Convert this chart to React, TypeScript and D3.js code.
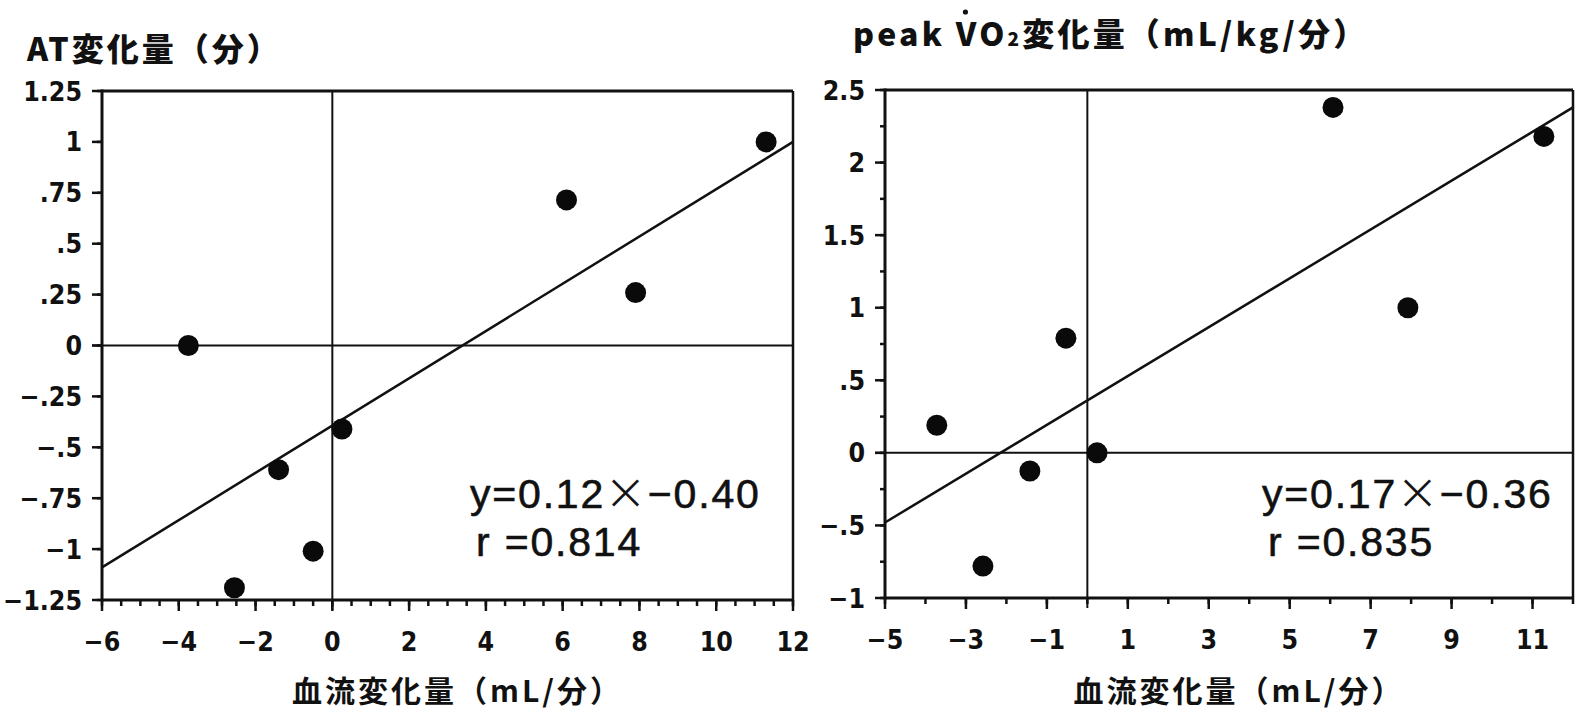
import React, { useLayoutEffect, useRef, useState } from "react";
import * as d3 from "d3";

// ---- data ----
const atX = [-3.75, -2.55, -1.4, -0.5, 0.25, 6.1, 7.9, 11.3];
const atY = [0, -1.19, -0.61, -1.01, -0.41, 0.715, 0.26, 1.0];
const atLine = [
  [-6, -1.09],
  [12, 1.0],
];
const atYTicks = [1.25, 1, 0.75, 0.5, 0.25, 0, -0.25, -0.5, -0.75, -1, -1.25];
const atYLabels = ["1.25", "1", ".75", ".5", ".25", "0", "−.25", "−.5", "−.75", "−1", "−1.25"];
const atXTicks = [-6, -4, -2, 0, 2, 4, 6, 8, 10, 12];

const vo2X = [-3.72, -2.58, -1.42, -0.53, 0.24, 6.07, 7.92, 11.28];
const vo2Y = [0.19, -0.78, -0.125, 0.79, 0, 2.38, 1.0, 2.18];
const vo2Line = [
  [-5, -0.48],
  [12, 2.38],
];
const vo2YTicks = [2.5, 2, 1.5, 1, 0.5, 0, -0.5, -1];
const vo2YLabels = ["2.5", "2", "1.5", "1", ".5", "0", "−.5", "−1"];
const vo2XTicks = [-5, -3, -1, 1, 3, 5, 7, 9, 11];

const xTitle = "血流変化量（mL/分）";
const atTitle = "AT変化量（分）";
const atEq = ["y=0.12", "×", "−0.40", "r =0.814"];
const vo2Eq = ["y=0.17", "×", "−0.36", "r =0.835"];

const NARROW = "'Liberation Sans Narrow', 'DejaVu Sans Condensed', 'Arial Narrow', sans-serif";
const CJK = "'Noto Sans CJK JP', 'Noto Sans', sans-serif";
const EQ = "'Liberation Sans', Arial, sans-serif";

type PanelProps = {
  xDomain: [number, number];
  yDomain: [number, number];
  xRange: [number, number];
  yRange: [number, number];
  xs: number[];
  ys: number[];
  line: number[][];
  yTicks: number[];
  yLabels: string[];
  yMinorStep: number;
  xTicks: number[];
  xMinorStep: number;
  eq: string[];
  eqX: number;
};

function Panel(p: PanelProps) {
  const x = d3.scaleLinear().domain(p.xDomain).range(p.xRange);
  const y = d3.scaleLinear().domain(p.yDomain).range(p.yRange);
  const [x0, x1] = p.xRange;
  const [yb, yt] = p.yRange;
  const xMinor = d3.range(p.xDomain[0], p.xDomain[1] + 1e-9, p.xMinorStep);
  const yMinor = d3.range(p.yDomain[0], p.yDomain[1] + 1e-9, p.yMinorStep);
  const lineGen = d3
    .line<number[]>()
    .x((d) => x(d[0]))
    .y((d) => y(d[1]));
  return (
    <g>
      {/* frame */}
      <line x1={x0} x2={x1} y1={yt} y2={yt} stroke="#111" strokeWidth={3} />
      <line x1={x1} x2={x1} y1={yt} y2={yb} stroke="#111" strokeWidth={2.5} />
      <line x1={x0} x2={x1} y1={yb} y2={yb} stroke="#111" strokeWidth={3} />
      <line x1={x0} x2={x0} y1={yt - 1.5} y2={yb + 1.5} stroke="#111" strokeWidth={3} />
      {/* zero lines */}
      <line x1={x0 - 10} x2={x1} y1={y(0)} y2={y(0)} stroke="#111" strokeWidth={2} />
      <line x1={x(0)} x2={x(0)} y1={yt} y2={yb + 10} stroke="#111" strokeWidth={2} />
      {/* y minor ticks */}
      {yMinor.map((v, i) => (
        <line key={"ym" + i} x1={x0 - 5} x2={x0} y1={y(v)} y2={y(v)} stroke="#111" strokeWidth={2.5} />
      ))}
      {/* y major ticks */}
      {p.yTicks.map((v, i) => (
        <g key={"y" + i}>
          <line x1={x0 - 10} x2={x0} y1={y(v)} y2={y(v)} stroke="#111" strokeWidth={2.5} />
          <text
            x={x0 - 20}
            y={y(v) + 9.5}
            textAnchor="end"
            fontFamily={NARROW}
            fontWeight="bold"
            fontSize={26.5}
            fill="#111"
          >
            {p.yLabels[i]}
          </text>
        </g>
      ))}
      {/* x minor ticks */}
      {xMinor.map((v, i) => (
        <line key={"xm" + i} x1={x(v)} x2={x(v)} y1={yb} y2={yb + 6} stroke="#111" strokeWidth={2.5} />
      ))}
      {p.xTicks.map((v, i) => (
        <g key={"x" + i}>
          <line x1={x(v)} x2={x(v)} y1={yb} y2={yb + 11} stroke="#111" strokeWidth={2.5} />
          <text
            x={x(v)}
            y={yb + 51}
            textAnchor="middle"
            fontFamily={NARROW}
            fontWeight="bold"
            fontSize={26.5}
            fill="#111"
          >
            {String(v).replace("-", "−")}
          </text>
        </g>
      ))}
      {/* regression line */}
      <path d={lineGen(p.line) || ""} stroke="#111" strokeWidth={2.5} fill="none" />
      {/* points */}
      {p.xs.map((v, i) => (
        <circle key={"p" + i} cx={x(v)} cy={y(p.ys[i])} r={10.5} fill="#0a0a0a" />
      ))}
      {/* x title */}
      <text
        x={(x0 + x1) / 2 + 10}
        y={702}
        textAnchor="middle"
        fontFamily={CJK}
        fontWeight="bold"
        fontSize={30}
        letterSpacing={3}
        fill="#111"
      >
        {xTitle}
      </text>
      {/* equation */}
      <text
        x={p.eqX}
        y={508}
        fontFamily={EQ}
        fontSize={41}
        fill="#111"
        stroke="#111"
        strokeWidth={0.6}
        letterSpacing={1.8}
      >
        <tspan>{p.eq[0]}</tspan>
        <tspan fontFamily={CJK} fontWeight={300}>{p.eq[1]}</tspan>
        <tspan>{p.eq[2]}</tspan>
      </text>
      <text
        x={p.eqX + 6}
        y={556}
        fontFamily={EQ}
        fontSize={41}
        fill="#111"
        stroke="#111"
        strokeWidth={0.6}
        letterSpacing={1.8}
      >
        {p.eq[3]}
      </text>
    </g>
  );
}

export default function App() {
  const titleRef = useRef<SVGTextElement>(null);
  const [dot, setDot] = useState<{ x: number; y: number } | null>(null);
  useLayoutEffect(() => {
    const t = titleRef.current;
    if (!t) return;
    try {
      const r = t.getExtentOfChar(5);
      setDot({ x: r.x + r.width / 2, y: r.y + 3 });
    } catch (e) {
      setDot(null);
    }
  }, []);
  return (
    <svg
      width={1575}
      height={714}
      style={{ position: "absolute", left: 0, top: 0, background: "#fff" }}
    >
      <rect width={1575} height={714} fill="#fff" />
      <text x={27} y={61} fontFamily={CJK} fontWeight={900} fontSize={32} letterSpacing={3} fill="#111">
        {atTitle}
      </text>
      <text
        ref={titleRef}
        x={853}
        y={46}
        fontFamily={CJK}
        fontWeight={900}
        fontSize={32}
        letterSpacing={3.2}
        fill="#111"
      >
        <tspan>peak V</tspan>
        <tspan>O</tspan>
        <tspan fontSize={19}>2</tspan>
        <tspan>変化量（mL/kg/分）</tspan>
      </text>
      {dot && <circle cx={dot.x - 2} cy={dot.y} r={2.6} fill="#111" />}
      <Panel
        xDomain={[-6, 12]}
        yDomain={[-1.25, 1.25]}
        xRange={[102, 793]}
        yRange={[600, 91]}
        xs={atX}
        ys={atY}
        line={atLine}
        yTicks={atYTicks}
        yLabels={atYLabels}
        yMinorStep={0.25}
        xTicks={atXTicks}
        xMinorStep={0.5}
        eq={atEq}
        eqX={470}
      />
      <Panel
        xDomain={[-5, 12]}
        yDomain={[-1, 2.5]}
        xRange={[885, 1573]}
        yRange={[598, 90]}
        xs={vo2X}
        ys={vo2Y}
        line={vo2Line}
        yTicks={vo2YTicks}
        yLabels={vo2YLabels}
        yMinorStep={0.25}
        xTicks={vo2XTicks}
        xMinorStep={1}
        eq={vo2Eq}
        eqX={1262}
      />
    </svg>
  );
}
